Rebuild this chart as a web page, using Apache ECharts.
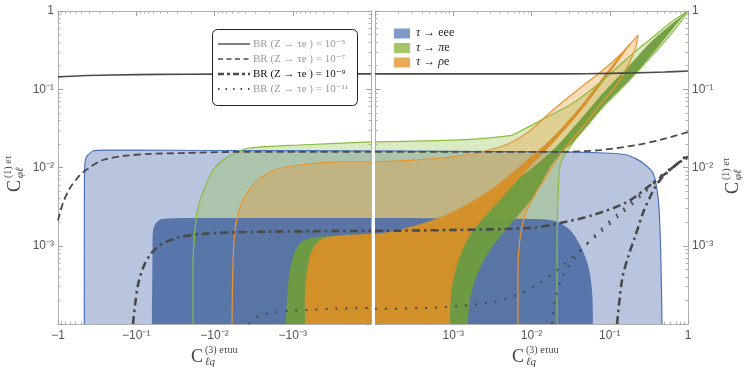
<!DOCTYPE html>
<html>
<head>
<meta charset="utf-8">
<title>C_lq vs C_phil</title>
<script src="https://cdn.jsdelivr.net/npm/echarts@6/dist/echarts.min.js"></script>
<style>html,body{margin:0;padding:0;background:#fff;}</style>
</head>
<body>
<div id="main" style="width:747px;height:372px;"></div>
<script>
// axis ranges (left panel is the negative side, stored with negative x)
var XMIN = 1e-4, XMAX = 1, YMIN = 1e-4, YMAX = 1;

// BR(Z -> tau e) contours
var br5Left = [[-1, 0.144], [-0.5, 0.149], [-0.2, 0.152], [-0.05, 0.155], [-0.01, 0.156], [-1e-4, 0.157]];
var br5Right = [[1e-4, 0.157], [0.01, 0.157], [0.05, 0.158], [0.2, 0.162], [0.5, 0.166], [1, 0.171]];
var br7Left = [[-1, 0.0021], [-0.863, 0.00352], [-0.703, 0.00547], [-0.524, 0.008], [-0.39, 0.0101], [-0.266, 0.01247],
  [-0.148, 0.014], [-0.0668, 0.0149], [-0.0253, 0.0153], [-0.00516, 0.0158], [-1e-4, 0.0158]];
var br7Right = [[1e-4, 0.0158], [0.0231, 0.0158], [0.075, 0.0167], [0.223, 0.0194], [0.439, 0.0225], [1, 0.0284]];
var br9Left = [[-0.11, 1e-4], [-0.1037, 0.000175], [-0.095, 0.000315], [-0.082, 0.00052], [-0.0668, 0.00076],
  [-0.0497, 0.00102], [-0.0301, 0.00126], [-0.0153, 0.00141], [-0.00352, 0.0015], [-1e-4, 0.00155]];
var br9RightUpper = [[1e-4, 0.00155], [0.00091, 0.00159], [0.00957, 0.00169], [0.0231, 0.00195], [0.061, 0.00247],
  [0.166, 0.00362], [0.357, 0.00634], [0.589, 0.0093], [1, 0.0147]];
var br9RightLower = [[0.124, 1e-4], [0.1435, 0.000365], [0.171, 0.000718], [0.21, 0.00129], [0.266, 0.00262],
  [0.347, 0.00472], [0.439, 0.0069], [0.643, 0.0101], [1, 0.0138]];
var br11Left = [[-0.00363, 1e-4], [-0.00278, 0.000126], [-0.00195, 0.000138], [-0.00108, 0.000147],
  [-0.000334, 0.000156], [-1e-4, 0.00016]];
var br11RightUpper = [[1e-4, 0.000156], [0.000462, 0.00016], [0.00122, 0.00017], [0.00322, 0.000191], [0.00709, 0.000242],
  [0.0128, 0.000334], [0.0231, 0.00052], [0.0417, 0.00088], [0.075, 0.00146], [0.135, 0.00247], [0.244, 0.0042],
  [0.439, 0.00734], [1, 0.0145]];
var br11RightLower = [[0.0183, 1e-4], [0.02, 0.000203], [0.0253, 0.000423], [0.036, 0.000697], [0.0648, 0.00137],
  [0.135, 0.0027], [0.282, 0.00516], [0.508, 0.00875], [1, 0.0132]];

// tau -> eee (outer = light, inner = dark)
var eeeOuterLeft = [[-0.461, 1e-4], [-0.46, 0.005], [-0.455, 0.0105], [-0.44, 0.0132], [-0.414, 0.01445], [-0.357, 0.01625],
  [-0.251, 0.0167], [-0.1, 0.0167], [-0.01, 0.0165], [-1e-4, 0.0163]];
var eeeOuterRight = [[1e-4, 0.0163], [0.001, 0.0161], [0.0231, 0.0158], [0.1, 0.0152], [0.166, 0.01445], [0.22, 0.0128],
  [0.266, 0.0114], [0.357, 0.0085], [0.414, 0.0042], [0.439, 0.00159], [0.455, 0.0004], [0.465, 1e-4]];
var eeeInnerLeft = [[-0.063, 1e-4], [-0.062, 0.0008], [-0.061, 0.00159], [-0.056, 0.00195], [-0.0469, 0.0022],
  [-0.0153, 0.00226], [-1e-4, 0.00226]];
var eeeInnerRight = [[1e-4, 0.00226], [0.00957, 0.0022], [0.02, 0.00207], [0.031, 0.00159], [0.0417, 0.00102],
  [0.0527, 0.000567], [0.0593, 0.000272], [0.061, 1e-4]];

// tau -> pi e
var pieLightLeft = [[-0.0188, 1e-4], [-0.0188, 0.0006], [-0.01775, 0.00159], [-0.01625, 0.00313], [-0.0132, 0.00564],
  [-0.01045, 0.0093], [-0.00779, 0.01247], [-0.00516, 0.0158], [-0.00352, 0.01775], [-0.000808, 0.0194], [-1e-4, 0.0212]];
var pieLightRightUpper = [[1e-4, 0.0212], [0.00122, 0.0225], [0.00531, 0.0255], [0.00713, 0.029], [0.0158, 0.0442],
  [0.031, 0.063], [0.0512, 0.0895], [0.082, 0.131], [0.135, 0.204], [0.223, 0.318], [0.357, 0.465], [0.589, 0.703], [1, 1]];
var pieLightRightLower = [[0.0212, 1e-4], [0.0212, 0.00088], [0.0218, 0.00384], [0.0231, 0.0105], [0.0277, 0.0155],
  [0.0417, 0.027], [0.0512, 0.034], [0.082, 0.0593], [0.135, 0.0978], [0.223, 0.166], [0.439, 0.347], [0.79, 0.703], [1, 1]];
var pieDarkLeft = [[-0.00122, 1e-4], [-0.00115, 0.000315], [-0.00102, 0.000657], [-0.000808, 0.00108],
  [-0.00052, 0.00128], [-0.00025, 0.00133], [-1e-4, 0.00133]];
var pieDarkRightUpper = [[1e-4, 0.00133], [0.000462, 0.00179], [0.00122, 0.0027], [0.00322, 0.00446], [0.00875, 0.00875],
  [0.0188, 0.0167], [0.0417, 0.0405], [0.082, 0.0895], [0.18, 0.204], [0.357, 0.426], [1, 1]];
var pieDarkRightLower = [[0.00154, 1e-4], [0.00164, 0.000203], [0.00201, 0.000423], [0.00295, 0.00088], [0.00531, 0.00184],
  [0.011, 0.00446], [0.0188, 0.0114], [0.0417, 0.026], [0.082, 0.0593], [0.18, 0.131], [0.357, 0.29], [0.79, 0.767], [1, 1]];

// tau -> rho e
var rhoeLightLeft = [[-0.00597, 1e-4], [-0.0058, 0.0006], [-0.00547, 0.00159], [-0.00472, 0.00313], [-0.00385, 0.00472],
  [-0.00278, 0.0069], [-0.00169, 0.0093], [-0.000808, 0.01076], [-0.000249, 0.0118], [-1e-4, 0.0118]];
var rhoeLightRightUpper = [[1e-4, 0.0118], [0.00091, 0.0136], [0.00396, 0.0183], [0.00875, 0.0276], [0.0188, 0.0543],
  [0.0417, 0.104], [0.082, 0.176], [0.135, 0.274], [0.23, 0.493]];
var rhoeLightRightLower = [[0.00672, 1e-4], [0.00672, 0.00049], [0.00709, 0.00118], [0.00826, 0.00247], [0.011, 0.00446],
  [0.0158, 0.008], [0.0231, 0.01445], [0.0417, 0.0301], [0.075, 0.063], [0.135, 0.131], [0.21, 0.318], [0.23, 0.493]];
var rhoeDarkLeft = [[-0.000697, 1e-4], [-0.000697, 0.00027], [-0.000638, 0.000567], [-0.000567, 0.00088],
  [-0.000449, 0.00118], [-0.000288, 0.00133], [-1e-4, 0.00141]];
var rhoeDarkRightUpper = [[1e-4, 0.00141], [0.000462, 0.00201], [0.00122, 0.00304], [0.00322, 0.00547], [0.00875, 0.01247],
  [0.0188, 0.0245], [0.0417, 0.0593], [0.082, 0.1435], [0.18, 0.39]];
var rhoeDarkRightLower = [[0.000908, 1e-4], [0.00095, 0.00027], [0.00112, 0.000567], [0.0015, 0.00118], [0.0022, 0.00201],
  [0.00396, 0.00384], [0.00875, 0.0093], [0.0188, 0.0206], [0.0417, 0.0512], [0.082, 0.124], [0.18, 0.368], [0.18, 0.39]];

// axis ticks
var majorTicks = [1e-4, 1e-3, 1e-2, 1e-1, 1];
var minorTicks = [];
for (var k = -4; k < 0; k++) {
  for (var m = 2; m <= 9; m++) minorTicks.push(m * Math.pow(10, k));
}

var legendLines = ['BR (Z \u2192 \u03c4e ) = 10\u207b\u2075', 'BR (Z \u2192 \u03c4e ) = 10\u207b\u2077',
  'BR (Z \u2192 \u03c4e ) = 10\u207b\u2079', 'BR (Z \u2192 \u03c4e ) = 10\u207b\u00b9\u00b9'];
var legendRegions = ['{i|\u03c4} \u2192 eee', '{i|\u03c4} \u2192 {i|\u03c0}e', '{i|\u03c4} \u2192 {i|\u03c1}e'];

var C = {
  blueLight: '#b9c5de', blueEdge: '#4d72b8', blueDark: 'rgba(82,112,168,0.93)',
  greenLight: 'rgba(150,195,80,0.35)', greenEdge: '#8cbd3f', greenDark: 'rgba(112,156,62,0.95)',
  orangeLight: 'rgba(235,150,45,0.32)', orangeEdge: '#eb9530', orangeDark: 'rgba(214,143,42,0.97)',
  br: '#4a4a4a'
};
var SMOOTH = 0.3;

var SUP = {'-': '\u207b', '0': '\u2070', '1': '\u00b9', '2': '\u00b2', '3': '\u00b3', '4': '\u2074'};
function expLabel(v, neg) {
  var e = Math.round(Math.log10(v));
  if (e <= -4) return '';
  var s = e === 0 ? '1' : '10' + String(e).split('').map(function (c) { return SUP[c]; }).join('');
  return neg ? '\u2212' + s : s;
}

function toAxis(pts) { return pts.map(function (p) { return [Math.abs(p[0]), p[1]]; }); }
// closing corners are pushed outside the frame so the clipped fill keeps square panel edges
function leftPoly(curve) {
  var last = curve[curve.length - 1];
  return [[curve[0][0], YMIN / 10]].concat(curve, [[-XMIN / 10, last[1]], [-XMIN / 10, YMIN / 10]]);
}
function rightPoly(upper, lower) {
  var end = lower ? lower[0] : upper[upper.length - 1];
  return [[XMIN / 10, YMIN / 10], [XMIN / 10, upper[0][1]]].concat(upper,
    lower ? lower.slice().reverse() : [], [[end[0], YMIN / 10]]);
}

function logAxis(o) {
  return Object.assign({
    type: 'log', logBase: 10, min: XMIN, max: XMAX,
    axisLine: {show: true, onZero: false, lineStyle: {color: '#b0b0b0', width: 1}},
    axisTick: {show: true, inside: true, length: 5, lineStyle: {color: '#a0a0a0'}},
    axisLabel: {show: false},
    splitLine: {show: false}
  }, o);
}
function minorAxis(o) {
  return logAxis(Object.assign({
    axisLine: {show: false},
    axisTick: {show: true, inside: true, length: 2.5, customValues: minorTicks, lineStyle: {color: '#b0b0b0'}}
  }, o));
}
var labelStyle = {show: true, fontFamily: 'Liberation Sans', fontSize: 12, color: '#555', margin: 6};

var xAxes = [
  logAxis({gridIndex: 0, position: 'bottom', inverse: true,
    axisLabel: Object.assign({}, labelStyle, {formatter: function (v) { return expLabel(v, true); }})}),
  logAxis({gridIndex: 0, position: 'top', inverse: true}),
  minorAxis({gridIndex: 0, position: 'bottom', inverse: true}),
  minorAxis({gridIndex: 0, position: 'top', inverse: true}),
  logAxis({gridIndex: 1, position: 'bottom',
    axisLabel: Object.assign({}, labelStyle, {formatter: function (v) { return expLabel(v, false); }})}),
  logAxis({gridIndex: 1, position: 'top'}),
  minorAxis({gridIndex: 1, position: 'bottom'}),
  minorAxis({gridIndex: 1, position: 'top'})
];
var yAxes = [
  logAxis({gridIndex: 0, position: 'left', min: YMIN, max: YMAX,
    axisLabel: Object.assign({}, labelStyle, {margin: 4, formatter: function (v) { return expLabel(v, false); }})}),
  logAxis({gridIndex: 0, position: 'right', min: YMIN, max: YMAX}),
  minorAxis({gridIndex: 0, position: 'left', min: YMIN, max: YMAX}),
  minorAxis({gridIndex: 0, position: 'right', min: YMIN, max: YMAX}),
  logAxis({gridIndex: 1, position: 'right', min: YMIN, max: YMAX,
    axisLabel: Object.assign({}, labelStyle, {margin: 4, formatter: function (v) { return expLabel(v, false); }})}),
  logAxis({gridIndex: 1, position: 'left', min: YMIN, max: YMAX}),
  minorAxis({gridIndex: 1, position: 'right', min: YMIN, max: YMAX}),
  minorAxis({gridIndex: 1, position: 'left', min: YMIN, max: YMAX})
];

function fill(pts, g, color) {
  var data = toAxis(pts);
  return {
    type: 'custom', xAxisIndex: g * 4, yAxisIndex: g * 4, silent: true, clip: true,
    data: [data[1]],
    renderItem: function (params, api) {
      return {type: 'polygon', shape: {points: data.map(function (p) { return api.coord(p); }), smooth: SMOOTH},
        style: {fill: color, stroke: null}};
    }
  };
}
function line(pts, g, color, width, type) {
  return {
    type: 'line', xAxisIndex: g * 4, yAxisIndex: g * 4, data: toAxis(pts), silent: true,
    symbol: 'none', smooth: SMOOTH, animation: false,
    lineStyle: {color: color, width: width, type: type || 'solid', cap: 'butt'}
  };
}

var series = [
  fill(leftPoly(eeeOuterLeft), 0, C.blueLight), fill(rightPoly(eeeOuterRight), 1, C.blueLight),
  fill(leftPoly(pieLightLeft), 0, C.greenLight), fill(rightPoly(pieLightRightUpper, pieLightRightLower), 1, C.greenLight),
  fill(leftPoly(rhoeLightLeft), 0, C.orangeLight), fill(rightPoly(rhoeLightRightUpper, rhoeLightRightLower), 1, C.orangeLight),
  fill(leftPoly(eeeInnerLeft), 0, C.blueDark), fill(rightPoly(eeeInnerRight), 1, C.blueDark),
  fill(leftPoly(pieDarkLeft), 0, C.greenDark), fill(rightPoly(pieDarkRightUpper, pieDarkRightLower), 1, C.greenDark),
  fill(leftPoly(rhoeDarkLeft), 0, C.orangeDark), fill(rightPoly(rhoeDarkRightUpper, rhoeDarkRightLower), 1, C.orangeDark),

  line(eeeOuterLeft, 0, C.blueEdge, 1.2), line(eeeOuterRight, 1, C.blueEdge, 1.2),
  line(pieLightLeft, 0, C.greenEdge, 1.2), line(pieLightRightUpper, 1, C.greenEdge, 1.2), line(pieLightRightLower, 1, C.greenEdge, 1.2),
  line(rhoeLightLeft, 0, C.orangeEdge, 1.2), line(rhoeLightRightUpper, 1, C.orangeEdge, 1.2), line(rhoeLightRightLower, 1, C.orangeEdge, 1.2),

  line(br5Left, 0, C.br, 1.6), line(br5Right, 1, C.br, 1.6),
  line(br7Left, 0, C.br, 1.8, [7, 4]), line(br7Right, 1, C.br, 1.8, [7, 4]),
  line(br9Left, 0, C.br, 2.6, [8, 4, 2.5, 4]), line(br9RightUpper, 1, C.br, 2.6, [8, 4, 2.5, 4]),
  line(br9RightLower, 1, C.br, 2.6, [8, 4, 2.5, 4]),
  line(br11Left, 0, C.br, 2, [2, 8]), line(br11RightUpper, 1, C.br, 2, [2, 8]),
  line(br11RightLower, 1, C.br, 2, [2, 8])
];

var SERIF = '"Liberation Serif", "DejaVu Serif", serif';
function axisTitle(cx, cy, rot, sup, sub) {
  return {
    type: 'group', x: cx, y: cy, rotation: rot, z: 100, silent: true,
    children: [
      {type: 'text', x: -24, y: 0, style: {text: 'C', font: '18px ' + SERIF, fill: '#444', textVerticalAlign: 'middle'}},
      {type: 'text', x: -10, y: -7, style: {text: sup, font: '10px ' + SERIF, fill: '#444', textVerticalAlign: 'middle'}},
      {type: 'text', x: -10, y: 5, style: {text: sub, font: 'italic 11px ' + SERIF, fill: '#444', textVerticalAlign: 'middle'}}
    ]
  };
}

var graphics = [
  axisTitle(215, 357, 0, '(3) e\u03c4uu', '\u2113q'),
  axisTitle(536, 357, 0, '(3) e\u03c4uu', '\u2113q'),
  axisTitle(15, 168, Math.PI / 2, '(1) e\u03c4', '\u03c6\u2113'),
  axisTitle(733, 170, Math.PI / 2, '(1) e\u03c4', '\u03c6\u2113'),
  {type: 'rect', z: 100, silent: true, shape: {x: 212.5, y: 29.5, width: 145, height: 76, r: 5},
    style: {fill: '#fff', stroke: '#222', lineWidth: 1}}
];
var legendDash = [null, [5, 3.5], [6, 3, 3, 3], [1.5, 6]];
var legendWidth = [1.4, 1.6, 2.6, 2];
legendLines.forEach(function (t, i) {
  var y = 44 + i * 15;
  graphics.push({type: 'line', z: 101, silent: true, shape: {x1: 218, y1: y, x2: 250, y2: y},
    style: {stroke: C.br, lineWidth: legendWidth[i], lineDash: legendDash[i]}});
  graphics.push({type: 'text', z: 101, silent: true, x: 253, y: y,
    style: {text: t, font: '11px ' + SERIF, fill: i === 2 ? '#111' : '#9a9a9a', textVerticalAlign: 'middle'}});
});
var swatch = ['#7f99c8', '#a3c566', '#e8a958'];
legendRegions.forEach(function (t, i) {
  var y = 33 + i * 14.5;
  graphics.push({type: 'rect', z: 101, silent: true, shape: {x: 394, y: y - 4.5, width: 16, height: 10},
    style: {fill: swatch[i]}});
  graphics.push({type: 'text', z: 101, silent: true, x: 416, y: y,
    style: {text: t, font: '12px ' + SERIF, fill: '#222', textVerticalAlign: 'middle',
      rich: {i: {fontStyle: 'italic', fontFamily: SERIF, fontSize: 12, fill: '#222'}}}});
});

var chart = echarts.init(document.getElementById('main'));
chart.setOption({
  animation: false,
  grid: [
    {left: 58, top: 11, width: 313, height: 313},
    {left: 375, top: 11, width: 313, height: 313}
  ],
  xAxis: xAxes,
  yAxis: yAxes,
  series: series,
  graphic: graphics
});
</script>
</body>
</html>
